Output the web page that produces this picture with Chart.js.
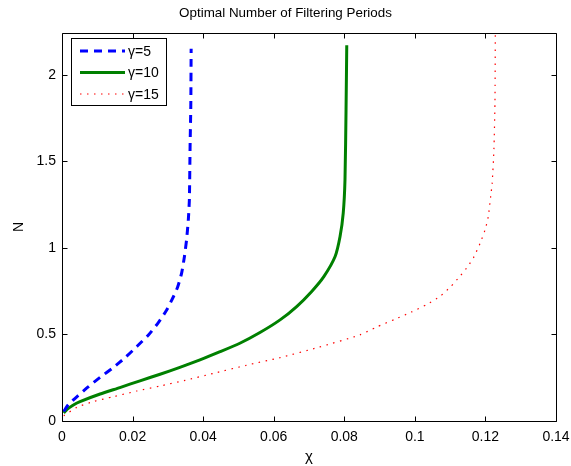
<!DOCTYPE html>
<html><head><meta charset="utf-8">
<script src="https://cdn.jsdelivr.net/npm/chart.js@4/dist/chart.umd.min.js"></script>
<style>html,body{margin:0;padding:0;background:#fff}#wrap{width:571px;height:466px}</style>
</head><body><div id="wrap"><canvas id="c" width="571" height="466"></canvas></div>
<script>
const chi5 = [0.0005, 0.0018, 0.0042, 0.0075, 0.0108, 0.0145, 0.0179, 0.0212, 0.0245, 0.0273, 0.0297, 0.0316, 0.0328, 0.0339, 0.0347, 0.0353, 0.0358, 0.0361, 0.0363, 0.0365, 0.0366];
const n5   = [0.055, 0.095, 0.14, 0.198, 0.252, 0.308, 0.366, 0.43, 0.497, 0.568, 0.642, 0.719, 0.775, 0.854, 0.95, 1.046, 1.162, 1.28, 1.586, 1.817, 2.15];
const chi10 = [0.0005, 0.0015, 0.003, 0.0051, 0.0108, 0.0164, 0.0221, 0.0278, 0.0334, 0.0391, 0.0448, 0.0504, 0.0561, 0.0618, 0.0665, 0.0707, 0.0742, 0.0774, 0.0788, 0.0797, 0.0802, 0.0805, 0.0807];
const n10   = [0.046, 0.068, 0.09, 0.112, 0.156, 0.193, 0.232, 0.27, 0.31, 0.353, 0.4, 0.449, 0.511, 0.584, 0.661, 0.747, 0.834, 0.95, 1.065, 1.2, 1.393, 1.8, 2.17];
const chi15 = [0.0005, 0.0042, 0.0089, 0.0145, 0.0212, 0.0278, 0.0349, 0.0429, 0.0523, 0.0618, 0.0726, 0.0844, 0.0892, 0.0944, 0.0991, 0.1033, 0.1071, 0.1102, 0.1127, 0.115, 0.1168, 0.1185, 0.1199, 0.1208, 0.1215, 0.1219, 0.1224, 0.1227, 0.1228];
const n15   = [0.03, 0.079, 0.112, 0.14, 0.173, 0.202, 0.235, 0.275, 0.322, 0.366, 0.425, 0.497, 0.543, 0.588, 0.63, 0.672, 0.719, 0.777, 0.834, 0.892, 0.95, 1.027, 1.104, 1.18, 1.3, 1.37, 1.566, 1.836, 2.24];
const seriesLabels = ['\u03b3=5', '\u03b3=10', '\u03b3=15'];
const xTicks = [0, 0.02, 0.04, 0.06, 0.08, 0.1, 0.12, 0.14];
const yTicks = [0, 0.5, 1, 1.5, 2];
const titleText = 'Optimal Number of Filtering Periods';
const xLabel = '\u03c7';
const yLabel = 'N';

const FONT = "'Liberation Sans', Arial, sans-serif";
const pts = (xs, ys) => xs.map((x, i) => ({x: x, y: ys[i]}));

const boxPlugin = {
  id: 'box',
  afterDatasetsDraw(chart) {
    const {ctx, chartArea: a, scales} = chart;
    ctx.save();
    ctx.strokeStyle = '#000';
    ctx.lineWidth = 1;
    ctx.beginPath();
    const L = Math.round(a.left) + 0.5, R = Math.round(a.right) + 0.5, T = Math.round(a.top) + 0.5, B = Math.round(a.bottom) + 0.5;
    ctx.rect(L, T, R - L, B - T);
    const tl = 5;
    xTicks.forEach(v => {
      const px = Math.round(scales.x.getPixelForValue(v)) + 0.5;
      ctx.moveTo(px, B); ctx.lineTo(px, B - tl);
      ctx.moveTo(px, T); ctx.lineTo(px, T + tl);
    });
    yTicks.forEach(v => {
      const py = Math.round(scales.y.getPixelForValue(v)) + 0.5;
      ctx.moveTo(L, py); ctx.lineTo(L + tl, py);
      ctx.moveTo(R, py); ctx.lineTo(R - tl, py);
    });
    ctx.stroke();
    // legend
    const lx = 71.5, ly = 38.5, lw = 95, lh = 67;
    ctx.fillStyle = '#fff';
    ctx.fillRect(lx, ly, lw, lh);
    ctx.strokeRect(lx, ly, lw, lh);
    chart.data.datasets.forEach((ds, i) => {
      const y = 51 + i * 21.5;
      ctx.save();
      ctx.strokeStyle = ds.borderColor;
      ctx.lineWidth = ds.borderWidth;
      ctx.setLineDash(ds.borderDash || []);
      ctx.beginPath();
      ctx.moveTo(80, y); ctx.lineTo(125, y);
      ctx.stroke();
      ctx.restore();
      ctx.fillStyle = '#000';
      ctx.font = '14px ' + FONT;
      ctx.textBaseline = 'middle';
      ctx.textAlign = 'left';
      ctx.fillText(ds.label, 128, y + 1);
    });
    ctx.restore();
  }
};

new Chart(document.getElementById('c'), {
  type: 'scatter',
  data: {
    datasets: [
      {label: seriesLabels[0], data: pts(chi5, n5), showLine: true, borderColor: '#0000ff', borderWidth: 3, borderDash: [8, 6], pointRadius: 0, tension: 0.2},
      {label: seriesLabels[1], data: pts(chi10, n10), showLine: true, borderColor: '#008000', borderWidth: 3, pointRadius: 0, tension: 0.2},
      {label: seriesLabels[2], data: pts(chi15, n15), showLine: true, borderColor: '#ff0000', borderWidth: 1.2, borderDash: [1.5, 5.5], pointRadius: 0, tension: 0.2}
    ]
  },
  options: {
    responsive: false,
    animation: false,
    layout: {padding: {left: 0, right: 0, top: 0, bottom: 0}},
    plugins: {
      legend: {display: false},
      tooltip: {enabled: false},
      title: {display: true, text: titleText, color: '#000', font: {family: FONT, size: 13.4, weight: 'normal'}, padding: {top: 5, bottom: 12}}
    },
    scales: {
      x: {
        type: 'linear', min: 0, max: 0.14,
        afterBuildTicks: s => { s.ticks = xTicks.map(v => ({value: v})); },
        afterFit: s => { s.height = 45; s.paddingRight = 15; s.paddingLeft = 0; },
        grid: {display: false, drawTicks: false},
        border: {display: false},
        ticks: {color: '#000', font: {family: FONT, size: 14}, padding: 8, maxRotation: 0, callback: v => String(v)},
        title: {display: true, text: xLabel, color: '#000', font: {family: FONT, size: 15}, padding: {top: 3, bottom: 0}}
      },
      y: {
        type: 'linear', min: 0, max: 2.24,
        afterBuildTicks: s => { s.ticks = yTicks.map(v => ({value: v})); },
        afterFit: s => { s.width = 62; },
        grid: {display: false, drawTicks: false},
        border: {display: false},
        ticks: {color: '#000', font: {family: FONT, size: 14}, padding: 6, callback: v => String(v)},
        title: {display: true, text: yLabel, color: '#000', font: {family: FONT, size: 14}, padding: {top: 11, bottom: 0}}
      }
    }
  },
  plugins: [boxPlugin]
});
</script>
</body></html>
